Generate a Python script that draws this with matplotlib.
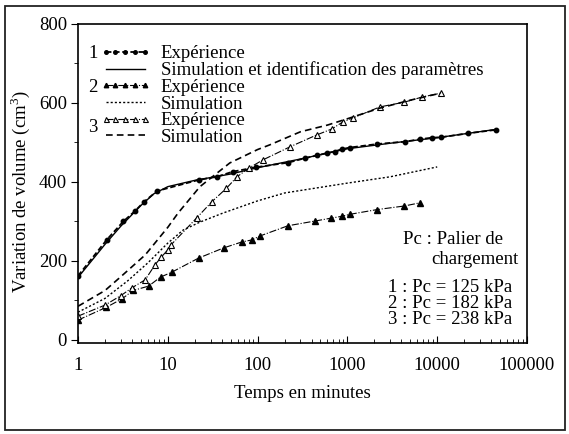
import matplotlib
matplotlib.use("Agg")
import matplotlib.pyplot as plt
from matplotlib.patches import Rectangle
from matplotlib.ticker import LogLocator, NullFormatter, MultipleLocator

plt.rcParams['font.family'] = ['Liberation Serif', 'DejaVu Serif']
plt.rcParams['mathtext.fontset'] = 'custom'
plt.rcParams['mathtext.rm'] = 'Liberation Serif'

# Series 1 (Pc = 125 kPa)
t_exp1 = [1, 2.1, 3.2, 4.3, 5.4, 7.6, 22, 35, 53, 95, 220, 335, 455, 590, 720, 870,
          1060, 2150, 4400, 6400, 8700, 11000, 22000, 45000]
v_exp1 = [162, 254, 300, 326, 349, 377, 405, 413, 426, 437, 449, 460, 467, 473, 477, 483,
          487, 496, 502, 508, 512, 513, 523, 532]
t_sim1 = [1, 2, 3, 5, 7, 10, 20, 50, 100, 300, 1000, 3000, 10000, 45000]
v_sim1 = [158, 242, 288, 340, 370, 388, 404, 420, 436, 458, 484, 498, 512, 533]

# Series 2 (Pc = 182 kPa)
t_exp2 = [1, 2.05, 3.1, 4.1, 6.1, 8.3, 11, 22, 42, 67, 86, 106, 218, 437, 650, 870,
          1070, 2150, 4300, 6400]
v_exp2 = [50, 82, 104, 125, 136, 159, 171, 207, 233, 248, 253, 263, 289, 301, 308, 313,
          318, 330, 339, 347]
t_sim2 = [1, 2, 3.6, 6, 10, 14.8, 22.7, 41, 100, 200, 1000, 3000, 10000]
v_sim2 = [70, 105, 150, 195, 245, 278, 298, 321, 352, 372, 397, 413, 438]

# Series 3 (Pc = 238 kPa)
t_exp3 = [1, 2, 3, 4, 5.6, 7.2, 8.5, 10, 10.8, 21, 31, 45, 59, 80, 115, 230, 455, 670,
          890, 1150, 2300, 4300, 6800, 11000]
v_exp3 = [60, 88, 112, 132, 152, 190, 210, 228, 240, 309, 350, 384, 413, 435, 456, 489,
          519, 534, 552, 562, 590, 602, 615, 625]
t_sim3 = [1, 2, 3, 5.6, 10, 13, 22.8, 49, 100, 137, 300, 600, 1000, 2300, 5000, 11000]
v_sim3 = [85, 125, 160, 215, 285, 321, 388, 448, 482, 494, 527, 544, 560, 587, 607, 625]

xticks = [1, 10, 100, 1000, 10000, 100000]
xticklabels = ['1', '10', '100', '1000', '10000', '100000']
yticks = [0, 200, 400, 600, 800]

W, H = 569, 434
FS = 13.5
fig = plt.figure(figsize=(W / 100, H / 100), dpi=100)
fig.patch.set_facecolor('white')
fig.patches.append(Rectangle((5 / W, 1 - 430 / H), 560 / W, 424 / H, transform=fig.transFigure,
                             fill=False, edgecolor='#222222', linewidth=1.3))

ax = fig.add_axes([78 / W, 1 - 343 / H, (527 - 78) / W, (343 - 24) / H])

l_e1, = ax.plot(t_exp1, v_exp1, color='black', linestyle=(0, (3, 1.5)), linewidth=1.3,
                marker='o', markersize=3.2)
l_s1, = ax.plot(t_sim1, v_sim1, color='black', linestyle='-', linewidth=1.0)
l_e2, = ax.plot(t_exp2, v_exp2, color='black', linestyle='-.', linewidth=0.8,
                marker='^', markersize=4)
l_s2, = ax.plot(t_sim2, v_sim2, color='black', linestyle=(0, (1.5, 1.5)), linewidth=1.0)
l_e3, = ax.plot(t_exp3, v_exp3, color='black', linestyle='-.', linewidth=0.8,
                marker='^', markersize=4.5, markerfacecolor='white', markeredgewidth=0.8)
l_s3, = ax.plot(t_sim3, v_sim3, color='black', linestyle=(0, (4, 2.5)), linewidth=1.2)

ax.set_xscale('log')
ax.set_xlim(1, 100000)
ax.set_ylim(-8, 800)
ax.set_xticks(xticks)
ax.set_xticklabels(xticklabels)
ax.xaxis.set_minor_locator(LogLocator(base=10, subs=range(2, 10)))
ax.xaxis.set_minor_formatter(NullFormatter())
ax.set_yticks(yticks)
ax.yaxis.set_minor_locator(MultipleLocator(100))
ax.tick_params(axis='x', which='major', direction='in', length=5, labelsize=FS, pad=10)
ax.tick_params(axis='x', which='minor', direction='in', length=3)
ax.tick_params(axis='y', which='major', direction='out', length=5, labelsize=FS, pad=3)
ax.tick_params(axis='y', which='minor', direction='out', length=3)
for s in ax.spines.values():
    s.set_linewidth(1.2)

fig.text(20 / W, 1 - 192 / H, 'Variation de volume (cm$^3$)', rotation=90,
         ha='center', va='center', fontsize=FS)
fig.text(302 / W, 1 - 393 / H, 'Temps en minutes', ha='center', va='center', fontsize=FS)

leg = ax.legend([l_e1, l_s1, l_e2, l_s2, l_e3, l_s3],
                ['Expérience', 'Simulation et identification des paramètres',
                 'Expérience', 'Simulation', 'Expérience', 'Simulation'],
                loc='upper left', bbox_to_anchor=(100 / W, 1 - 45 / H),
                bbox_transform=fig.transFigure, frameon=False, fontsize=FS,
                handlelength=2.7, handletextpad=0.55, labelspacing=-0.03,
                numpoints=5, markerscale=0.8, borderpad=0, borderaxespad=0)

for txt, y in [('1', 53), ('2', 88), ('3', 128)]:
    fig.text(93 / W, 1 - y / H, txt, ha='center', va='center', fontsize=FS)

ann = [('Pc : Palier de', 503, 239), ('chargement', 518, 260),
       ('1 : Pc = 125 kPa', 512, 288), ('2 : Pc = 182 kPa', 512, 304),
       ('3 : Pc = 238 kPa', 512, 320)]
for txt, x, y in ann:
    fig.text(x / W, 1 - y / H, txt, ha='right', va='center', fontsize=FS)

fig.savefig('out.png', dpi=100, facecolor='white')
